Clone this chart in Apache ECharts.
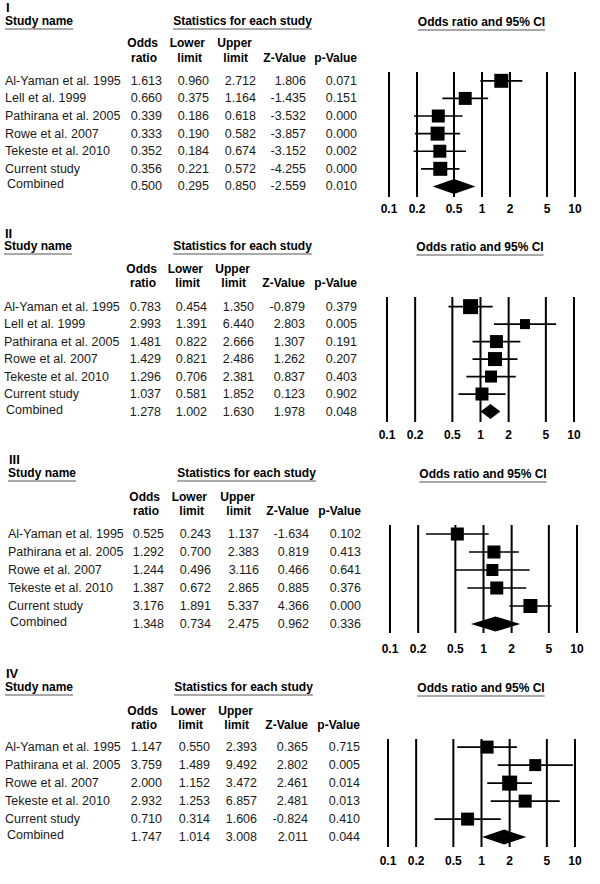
<!DOCTYPE html>
<html><head><meta charset="utf-8">
<script src="https://cdn.jsdelivr.net/npm/echarts@6/dist/echarts.min.js"></script>
<style>html,body{margin:0;padding:0;background:#fff}#c{width:600px;height:884px}</style>
</head><body><div id="c"></div>
<script>
// ---------- data ----------
const tickValues = [0.1, 0.2, 0.5, 1, 2, 5, 10];
const tickLabels = ['0.1', '0.2', '0.5', '1', '2', '5', '10'];
const panelLabels = ['I', 'II', 'III', 'IV'];
const columnHeads1 = ['Odds', 'Lower', 'Upper', '', ''];
const columnHeads2 = ['ratio', 'limit', 'limit', 'Z-Value', 'p-Value'];

const namesI = ['Al-Yaman et al. 1995', 'Lell et al. 1999', 'Pathirana et al. 2005', 'Rowe et al. 2007', 'Tekeste et al. 2010', 'Current study', 'Combined'];
const oddsI  = [1.613, 0.660, 0.339, 0.333, 0.352, 0.356, 0.500];
const lowerI = [0.960, 0.375, 0.186, 0.190, 0.184, 0.221, 0.295];
const upperI = [2.712, 1.164, 0.618, 0.582, 0.674, 0.572, 0.850];
const zI     = [1.806, -1.435, -3.532, -3.857, -3.152, -4.255, -2.559];
const pI     = [0.071, 0.151, 0.000, 0.000, 0.002, 0.000, 0.010];

const namesII = ['Al-Yaman et al. 1995', 'Lell et al. 1999', 'Pathirana et al. 2005', 'Rowe et al. 2007', 'Tekeste et al. 2010', 'Current study', 'Combined'];
const oddsII  = [0.783, 2.993, 1.481, 1.429, 1.296, 1.037, 1.278];
const lowerII = [0.454, 1.391, 0.822, 0.821, 0.706, 0.581, 1.002];
const upperII = [1.350, 6.440, 2.666, 2.486, 2.381, 1.852, 1.630];
const zII     = [-0.879, 2.803, 1.307, 1.262, 0.837, 0.123, 1.978];
const pII     = [0.379, 0.005, 0.191, 0.207, 0.403, 0.902, 0.048];

const namesIII = ['Al-Yaman et al. 1995', 'Pathirana et al. 2005', 'Rowe et al. 2007', 'Tekeste et al. 2010', 'Current study', 'Combined'];
const oddsIII  = [0.525, 1.292, 1.244, 1.387, 3.176, 1.348];
const lowerIII = [0.243, 0.700, 0.496, 0.672, 1.891, 0.734];
const upperIII = [1.137, 2.383, 3.116, 2.865, 5.337, 2.475];
const zIII     = [-1.634, 0.819, 0.466, 0.885, 4.366, 0.962];
const pIII     = [0.102, 0.413, 0.641, 0.376, 0.000, 0.336];

const namesIV = ['Al-Yaman et al. 1995', 'Pathirana et al. 2005', 'Rowe et al. 2007', 'Tekeste et al. 2010', 'Current study', 'Combined'];
const oddsIV  = [1.147, 3.759, 2.000, 2.932, 0.710, 1.747];
const lowerIV = [0.550, 1.489, 1.152, 1.253, 0.314, 1.014];
const upperIV = [2.393, 9.492, 3.472, 6.857, 1.606, 3.008];
const zIV     = [0.365, 2.802, 2.461, 2.481, -0.824, 2.011];
const pIV     = [0.715, 0.005, 0.014, 0.013, 0.410, 0.044];

// ---------- styling / layout (not data) ----------
const squareSizesI   = [14, 13, 13, 14, 13, 14];
const squareSizesII  = [15, 10, 13, 14, 12, 13];
const squareSizesIII = [13, 13, 12, 13, 14];
const squareSizesIV  = [13, 12, 15, 13, 13];

const layouts = [
  {labelY: 7,   headY: 21,  sub1Y: 43,  sub2Y: 58,  nameX: 5, cols: [162, 209, 256, 306, 357], statX0: 173, statX1: 312, gridLeft: 389, gridWidth: 186, gridTop: 72,  gridHeight: 125, yMin: -0.5,  yMax: 6.6,  tickY: 209},
  {labelY: 233, headY: 246, sub1Y: 269, sub2Y: 283, nameX: 4, cols: [161, 207, 254, 305, 357], statX0: 173, statX1: 312, gridLeft: 387, gridWidth: 187, gridTop: 297, gridHeight: 125, yMin: -0.55, yMax: 6.6,  tickY: 435},
  {labelY: 459, headY: 473, sub1Y: 497, sub2Y: 511, nameX: 8, cols: [164, 211, 259, 309, 361], statX0: 177, statX1: 316, gridLeft: 390, gridWidth: 187, gridTop: 525, gridHeight: 108, yMin: -0.5,  yMax: 5.5,  tickY: 649},
  {labelY: 673, headY: 687, sub1Y: 711, sub2Y: 725, nameX: 5, cols: [162, 210, 257, 308, 360], statX0: 174, statX1: 313, gridLeft: 388, gridWidth: 187, gridTop: 739, gridHeight: 108, yMin: -0.45, yMax: 5.55, tickY: 861}
];
const headOffsets1 = [-4, -4, -4, 0, 0];
const headOffsets2 = [-5, -7, -8, 0, 0];

const panels = [
  {names: namesI,   odds: oddsI,   lower: lowerI,   upper: upperI,   z: zI,   p: pI,   sizes: squareSizesI},
  {names: namesII,  odds: oddsII,  lower: lowerII,  upper: upperII,  z: zII,  p: pII,  sizes: squareSizesII},
  {names: namesIII, odds: oddsIII, lower: lowerIII, upper: upperIII, z: zIII, p: pIII, sizes: squareSizesIII},
  {names: namesIV,  odds: oddsIV,  lower: lowerIV,  upper: upperIV,  z: zIV,  p: pIV,  sizes: squareSizesIV}
];

const FAM = '"Liberation Sans", Arial, Helvetica, sans-serif';
const BOLD = 'bold 12px ' + FAM;
const BODY = '12.5px ' + FAM;
const TXT = '#1a1a1a';
const ULINE = '#8c8c8c';

const measure = (function () {
  const ctx = document.createElement('canvas').getContext('2d');
  return function (txt, font) { ctx.font = font; return ctx.measureText(txt).width; };
})();

function textEl(text, x, y, font, align, fill) {
  return {type: 'text', style: {text: text, x: x, y: y, font: font, fill: fill || '#000',
    align: align, textAlign: align, verticalAlign: 'middle', textVerticalAlign: 'middle'}};
}
function lineEl(x1, y1, x2, y2, stroke, w) {
  return {type: 'line', shape: {x1: x1, y1: y1, x2: x2, y2: y2}, style: {stroke: stroke, lineWidth: w}};
}

const grids = [], xAxes = [], yAxes = [], series = [], graphics = [];

panels.forEach(function (pn, k) {
  const L = layouts[k];
  const n = pn.names.length;
  grids.push({left: L.gridLeft, top: L.gridTop, width: L.gridWidth, height: L.gridHeight});
  xAxes.push({type: 'log', logBase: 10, min: 0.1, max: 10, gridIndex: k, show: false});
  yAxes.push({type: 'value', inverse: true, min: L.yMin, max: L.yMax, gridIndex: k, show: false});

  // Headers
  graphics.push(textEl(panelLabels[k], L.nameX + 1, L.labelY, 'bold 13px ' + FAM, 'left'));
  graphics.push(textEl('Study name', L.nameX, L.headY, BOLD, 'left'));
  const wSN = measure('Study name', BOLD);
  graphics.push(lineEl(L.nameX, L.headY + 8, L.nameX + wSN, L.headY + 8, ULINE, 1.5));
  const sc = (L.statX0 + L.statX1) / 2;
  graphics.push(textEl('Statistics for each study', sc, L.headY, BOLD, 'center'));
  const wST = measure('Statistics for each study', BOLD);
  graphics.push(lineEl(sc - wST / 2, L.headY + 8, sc + wST / 2, L.headY + 8, ULINE, 1.5));
  const oc = L.gridLeft + L.gridWidth / 2 - 0.5;
  graphics.push(textEl('Odds ratio and 95% CI', oc, L.headY + 1, BOLD, 'center'));
  const wOR = measure('Odds ratio and 95% CI', BOLD);
  graphics.push(lineEl(oc - wOR / 2, L.headY + 9, oc + wOR / 2, L.headY + 9, ULINE, 1.5));
  L.cols.forEach(function (cx, c) {
    if (columnHeads1[c]) graphics.push(textEl(columnHeads1[c], cx + headOffsets1[c], L.sub1Y, BOLD, 'right'));
    graphics.push(textEl(columnHeads2[c], cx + headOffsets2[c], L.sub2Y, BOLD, 'right'));
  });

  // vertical reference lines + tick labels (through the log axis)
  series.push({
    type: 'custom', xAxisIndex: k, yAxisIndex: k, clip: false, silent: true, z: 1,
    data: tickValues.map(function (v, i) { return [v, 0, i]; }),
    encode: {x: 0, y: 1},
    renderItem: function (params, api) {
      const cs = params.coordSys;
      const x = api.coord([api.value(0), 0])[0];
      return {type: 'group', children: [
        lineEl(x, cs.y, x, cs.y + cs.height, '#000', 2),
        textEl(tickLabels[api.value(2)], x, L.tickY, BOLD, 'center')
      ]};
    }
  });

  // Table text (rows placed by the y axis)
  series.push({
    type: 'custom', xAxisIndex: k, yAxisIndex: k, clip: false, silent: true, z: 2,
    data: pn.names.map(function (nm, i) { return [1, i]; }),
    encode: {x: 0, y: 1},
    renderItem: function (params, api) {
      const i = params.dataIndex;
      const y = api.coord([1, i])[1];
      const isComb = i === n - 1;
      const vals = [pn.odds[i], pn.lower[i], pn.upper[i], pn.z[i], pn.p[i]];
      const ch = [textEl(pn.names[i], L.nameX + (isComb ? 2 : 0), y - (isComb ? 2 : 0), BODY, 'left', TXT)];
      vals.forEach(function (v, c) { ch.push(textEl(v.toFixed(3), L.cols[c], y, BODY, 'right', TXT)); });
      return {type: 'group', children: ch};
    }
  });

  // CI lines and combined diamond
  series.push({
    type: 'custom', xAxisIndex: k, yAxisIndex: k, clip: false, silent: true, z: 3,
    data: pn.odds.map(function (o, i) { return [o, i, pn.lower[i], pn.upper[i]]; }),
    encode: {x: 0, y: 1},
    renderItem: function (params, api) {
      const i = params.dataIndex;
      const pc = api.coord([api.value(0), api.value(1)]);
      const pl = api.coord([api.value(2), api.value(1)]);
      const pu = api.coord([api.value(3), api.value(1)]);
      if (i === n - 1) {
        const h = 7.5;
        return {type: 'polygon', shape: {points: [[pl[0], pc[1]], [pc[0], pc[1] - h], [pu[0], pc[1]], [pc[0], pc[1] + h]]},
          style: {fill: '#000'}};
      }
      return lineEl(pl[0], pc[1], pu[0], pc[1], '#000', 1.7);
    }
  });

  // Squares
  series.push({
    type: 'scatter', xAxisIndex: k, yAxisIndex: k, silent: true, z: 4,
    symbol: 'rect',
    data: pn.odds.slice(0, n - 1).map(function (o, i) { return {value: [o, i], symbolSize: pn.sizes[i]}; }),
    itemStyle: {color: '#000', opacity: 1}
  });
});

const chart = echarts.init(document.getElementById('c'), null, {renderer: 'svg'});
chart.setOption({
  animation: false,
  backgroundColor: '#fff',
  grid: grids, xAxis: xAxes, yAxis: yAxes, series: series,
  graphic: {elements: graphics}
});
</script></body></html>
